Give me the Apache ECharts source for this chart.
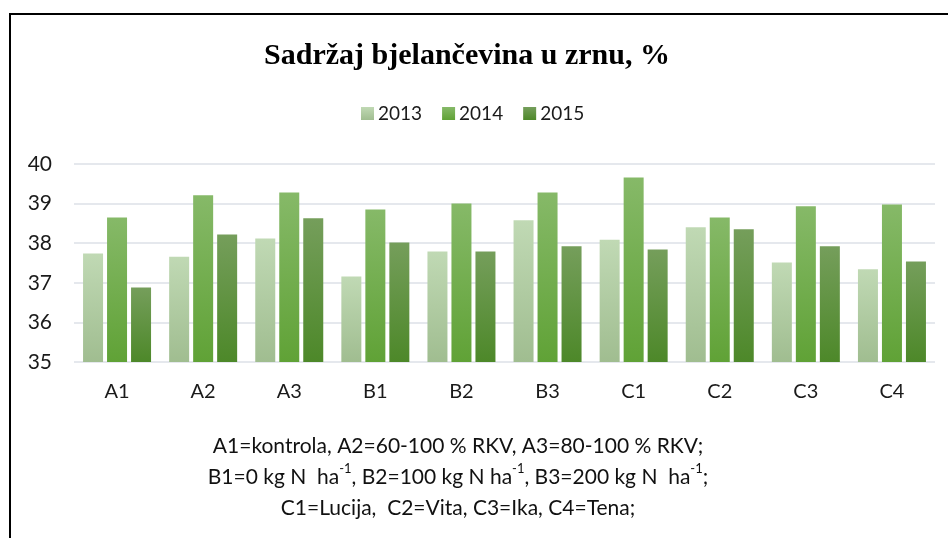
<!DOCTYPE html>
<html>
<head>
<meta charset="utf-8">
<script src="https://cdn.jsdelivr.net/npm/echarts@6/dist/echarts.min.js"></script>
<style>
  html, body { margin: 0; padding: 0; background: #fff; }
  #chart { width: 948px; height: 538px; }
</style>
</head>
<body>
<div id="chart"></div>
<script>
var categories = ['A1', 'A2', 'A3', 'B1', 'B2', 'B3', 'C1', 'C2', 'C3', 'C4']
var years = ['2013', '2014', '2015']
var v2013 = [37.74, 37.66, 38.12, 37.16, 37.79, 38.58, 38.09, 38.40, 37.51, 37.34]
var v2014 = [38.65, 39.21, 39.28, 38.85, 39.00, 39.28, 39.66, 38.65, 38.93, 38.98]
var v2015 = [36.88, 38.22, 38.63, 38.02, 37.79, 37.92, 37.84, 38.35, 37.92, 37.54]
var yTicks = [35, 36, 37, 38, 39, 40]

// top / bottom colours of the bar gradients
var colors = [
  ['#c0d9b4', '#a0bd90'],
  ['#86b968', '#60a236'],
  ['#759e5b', '#4d8829']
]

function grad(c) {
  return new echarts.graphic.LinearGradient(0, 0, 0, 1, [
    { offset: 0, color: c[0] },
    { offset: 1, color: c[1] }
  ])
}

var values = [v2013, v2014, v2015]
var series = years.map(function (y, i) {
  return {
    name: y,
    type: 'bar',
    barWidth: 20,
    barGap: '20%',
    data: values[i],
    itemStyle: { color: grad(colors[i]) }
  }
})

var chart = echarts.init(document.getElementById('chart'))
chart.setOption({
  animation: false,
  title: {
    text: 'Sadržaj bjelančevina u zrnu, %',
    left: 462,
    textAlign: 'center',
    top: 36,
    textStyle: {
      fontFamily: 'Liberation Serif',
      fontWeight: 'bold',
      fontSize: 30,
      color: '#000'
    }
  },
  legend: {
    data: years.map(function (y, i) { return { name: y, itemStyle: { color: grad(colors[i]) } } }),
    left: 356,
    top: 99,
    itemWidth: 13,
    itemHeight: 13,
    itemGap: 20,
    icon: 'rect',
    textStyle: { fontFamily: 'Lato', fontSize: 19, color: '#1a1a1a', padding: [0, 0, 0, -1] }
  },
  grid: { left: 74, right: 13, top: 164, bottom: 176 },
  xAxis: {
    type: 'category',
    data: categories,
    axisTick: { show: false },
    axisLine: { show: false },
    axisLabel: { fontFamily: 'Lato', fontSize: 20, color: '#1a1a1a', margin: 20 }
  },
  yAxis: {
    type: 'value',
    min: yTicks[0],
    max: yTicks[yTicks.length - 1],
    interval: 1,
    axisLine: { show: false },
    axisTick: { show: false },
    axisLabel: { fontFamily: 'Lato', fontSize: 21, color: '#1a1a1a', margin: 22 },
    splitLine: { lineStyle: { color: '#dde1e7', width: 1.5 } }
  },
  graphic: [
    // chart border: top and left edges only
    { type: 'line', shape: { x1: 9.5, y1: 14, x2: 948, y2: 14 }, style: { stroke: '#000', lineWidth: 2 } },
    { type: 'line', shape: { x1: 10, y1: 13, x2: 10, y2: 538 }, style: { stroke: '#000', lineWidth: 2 } },
    {
      type: 'text',
      x: 458,
      y: 431,
      style: {
        text: 'A1=kontrola, A2=60-100 % RKV, A3=80-100 % RKV;\n' +
              'B1=0 kg N  ha{s|-1}, B2=100 kg N ha{s|-1}, B3=200 kg N  ha{s|-1};\n' +
              'C1=Lucija,  C2=Vita, C3=Ika, C4=Tena;',
        fontFamily: 'Lato',
        fontSize: 21,
        lineHeight: 31,
        fill: '#111',
        align: 'center',
        verticalAlign: 'top',
        rich: {
          s: { fontFamily: 'Lato', fontSize: 13, fill: '#111', verticalAlign: 'top', lineHeight: 24 }
        }
      }
    }
  ],
  series: series
})
</script>
</body>
</html>
